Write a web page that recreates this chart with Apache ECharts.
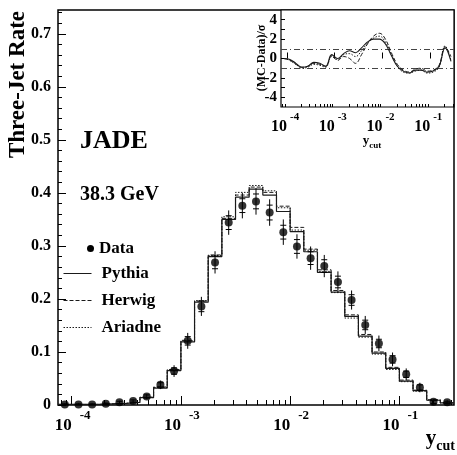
<!DOCTYPE html>
<html>
<head>
<meta charset="utf-8">
<script src="https://cdn.jsdelivr.net/npm/echarts@6/dist/echarts.min.js"></script>
<style>
  html, body { margin: 0; padding: 0; background: #fff; }
  #chart { width: 457px; height: 455px; }
</style>
</head>
<body>
<div id="chart"></div>
<script>
// log10(y_cut) bin edges, 8 bins per decade
const logYcutEdges = [-4.125, -4, -3.875, -3.75, -3.625, -3.5, -3.375, -3.25, -3.125, -3,
  -2.875, -2.75, -2.625, -2.5, -2.375, -2.25, -2.125, -2, -1.875, -1.75,
  -1.625, -1.5, -1.375, -1.25, -1.125, -1, -0.875, -0.75, -0.625, -0.5];

// three-jet rate per bin
const dataRate = [0.001, 0.001, 0.001, 0.0025, 0.005, 0.0075, 0.016, 0.038, 0.064, 0.121,
  0.186, 0.269, 0.344, 0.376, 0.384, 0.363, 0.326, 0.299, 0.277, 0.262,
  0.232, 0.198, 0.151, 0.116, 0.086, 0.058, 0.033, 0.006, 0.005];
const dataErrTot = [0.002, 0.002, 0.002, 0.002, 0.003, 0.003, 0.005, 0.008, 0.011, 0.015,
  0.018, 0.021, 0.023, 0.024, 0.025, 0.025, 0.024, 0.023, 0.022, 0.021,
  0.020, 0.018, 0.017, 0.015, 0.013, 0.011, 0.009, 0.005, 0.004];
const dataErrStat = [0.001, 0.001, 0.001, 0.001, 0.002, 0.002, 0.003, 0.004, 0.006, 0.008,
  0.010, 0.012, 0.013, 0.013, 0.014, 0.014, 0.013, 0.013, 0.012, 0.012,
  0.011, 0.010, 0.009, 0.008, 0.007, 0.006, 0.005, 0.003, 0.002];

const pythia = [0.001, 0.001, 0.001, 0.002, 0.003, 0.005, 0.014, 0.032, 0.065, 0.119,
  0.194, 0.280, 0.350, 0.392, 0.407, 0.396, 0.365, 0.327, 0.289, 0.250,
  0.213, 0.167, 0.130, 0.098, 0.069, 0.045, 0.027, 0.009, 0.004];
const herwig = [0.001, 0.001, 0.001, 0.002, 0.003, 0.005, 0.015, 0.034, 0.067, 0.122,
  0.196, 0.283, 0.352, 0.396, 0.411, 0.401, 0.375, 0.335, 0.294, 0.255,
  0.216, 0.170, 0.133, 0.100, 0.071, 0.047, 0.028, 0.010, 0.004];
const ariadne = [0.001, 0.001, 0.001, 0.002, 0.003, 0.005, 0.014, 0.033, 0.066, 0.121,
  0.197, 0.282, 0.355, 0.401, 0.414, 0.404, 0.372, 0.330, 0.292, 0.252,
  0.212, 0.164, 0.128, 0.096, 0.067, 0.044, 0.026, 0.009, 0.004];

// (MC-Data)/sigma, inset
const devPythia = [0.0, -0.1, -0.5, -0.9, -0.8, -0.4, -0.5, -0.8, 0.4, 0.0,
  0.5, 0.8, 0.6, 1.1, 1.7, 2.0, 2.0, 1.5, 0.3, -0.8,
  -1.3, -1.5, -1.2, -1.2, -1.4, -1.3, -0.8, 1.1, -0.3];
const devHerwig = [0.0, -0.2, -0.6, -0.9, -0.8, -0.5, -0.6, -0.8, 0.3, -0.2,
  0.2, 0.0, -0.5, 0.4, 1.5, 2.3, 2.6, 2.0, 0.6, -0.6,
  -1.2, -1.4, -1.1, -1.0, -1.3, -1.2, -0.7, 1.2, 0.2];
const devAriadne = [0.0, -0.2, -0.6, -1.0, -0.9, -0.6, -0.7, -0.9, 0.2, -0.1,
  0.4, 0.5, 0.2, 0.8, 1.6, 2.1, 2.3, 1.7, 0.4, -0.8,
  -1.4, -1.5, -1.3, -1.2, -1.5, -1.4, -0.9, 1.3, -0.2];

const xDecades = [-4, -3, -2, -1];
const rateTicks = [0, 0.1, 0.2, 0.3, 0.4, 0.5, 0.6, 0.7];
const devTickLabels = [-4, -2, 0, 2, 4];

const SERIF = '"Liberation Serif", "Times New Roman", serif';
const X_MIN = logYcutEdges[0], X_MAX = logYcutEdges[logYcutEdges.length - 1];

// minor log ticks 2..9 x 10^d
const minorLog = [];
for (let d = -5; d <= -1; d++) {
  for (let m = 2; m <= 9; m++) {
    const v = Math.log10(m) + d;
    if (v > X_MIN && v < X_MAX) minorLog.push(v);
  }
}
const minorRate = [];
for (let i = 1; i <= 37; i++) {
  if (i % 5 !== 0) minorRate.push(+(i * 0.02).toFixed(2));
}
const devTicks = [-4, -3, -2, -1, 0, 1, 2, 3, 4];

const centers = dataRate.map((_, i) => (logYcutEdges[i] + logYcutEdges[i + 1]) / 2);
const stepData = arr => logYcutEdges.map((e, i) => [e, arr[Math.min(i, arr.length - 1)]]);

function renderErr(params, api) {
  const x = api.value(0), y = api.value(1), et = api.value(2), es = api.value(3);
  const top = api.coord([x, y + et]);
  const bot = api.coord([x, Math.max(0, y - et)]);
  const st = api.coord([x, y + es]);
  const sb = api.coord([x, Math.max(0, y - es)]);
  const w = 3;
  const style = { stroke: '#000', lineWidth: 1 };
  return {
    type: 'group',
    children: [
      { type: 'line', shape: { x1: top[0], y1: top[1], x2: bot[0], y2: bot[1] }, style: style },
      { type: 'line', shape: { x1: st[0] - w, y1: st[1], x2: st[0] + w, y2: st[1] }, style: style },
      { type: 'line', shape: { x1: sb[0] - w, y1: sb[1], x2: sb[0] + w, y2: sb[1] }, style: style }
    ]
  };
}

// "10" part of a decade label
function tenLabel(size, margin) {
  return {
    customValues: xDecades, margin: margin, align: 'right', verticalAlign: 'top',
    fontFamily: SERIF, fontWeight: 'bold', fontSize: size, lineHeight: size, color: '#000',
    formatter: () => '10'
  };
}
// exponent part of a decade label
function expLabel(size, margin, shift) {
  return {
    customValues: xDecades, margin: margin, align: 'left', verticalAlign: 'top',
    fontFamily: SERIF, fontWeight: 'bold', fontSize: size, lineHeight: size, color: '#000',
    padding: [0, 0, 0, shift],
    formatter: v => String(v)
  };
}

const lineColor = '#1a1a1a';
const legendFont = { fontFamily: SERIF, fontWeight: 'bold', fontSize: 17, color: '#000' };

const option = {
  animation: false,
  backgroundColor: '#fff',
  textStyle: { fontFamily: SERIF, fontWeight: 'bold', color: '#000' },
  grid: [
    { left: 58, top: 10, width: 396, height: 395, show: true, borderColor: '#000', borderWidth: 1.5, backgroundColor: 'transparent' },
    { left: 281, top: 10, width: 173, height: 97, show: true, borderColor: '#000', borderWidth: 1.2, backgroundColor: '#fff' }
  ],
  xAxis: [
    {
      gridIndex: 0, type: 'value', position: 'bottom', min: X_MIN, max: X_MAX,
      axisLine: { show: false }, splitLine: { show: false },
      axisTick: { show: true, inside: true, length: 9, customValues: xDecades, lineStyle: { color: '#000', width: 1 } },
      axisLabel: tenLabel(17, 12)
    },
    {
      gridIndex: 0, type: 'value', position: 'bottom', min: X_MIN, max: X_MAX,
      axisLine: { show: false }, splitLine: { show: false },
      axisTick: { show: true, inside: true, length: 5, customValues: minorLog, lineStyle: { color: '#000', width: 1 } },
      axisLabel: expLabel(13, 4, 8)
    },
    {
      gridIndex: 1, type: 'value', position: 'bottom', min: X_MIN, max: X_MAX,
      axisLine: { show: false }, splitLine: { show: false },
      axisTick: { show: true, inside: true, length: 6, customValues: xDecades, lineStyle: { color: '#000', width: 1 } },
      axisLabel: tenLabel(16, 12)
    },
    {
      gridIndex: 1, type: 'value', position: 'bottom', min: X_MIN, max: X_MAX,
      axisLine: { show: false }, splitLine: { show: false },
      axisTick: { show: true, inside: true, length: 3, customValues: minorLog, lineStyle: { color: '#000', width: 1 } },
      axisLabel: expLabel(11, 5, 3)
    }
  ],
  yAxis: [
    {
      gridIndex: 0, type: 'value', position: 'left', min: 0, max: 0.745,
      axisLine: { show: false }, splitLine: { show: false },
      axisTick: { show: true, inside: true, length: 8, customValues: rateTicks, lineStyle: { color: '#000', width: 1 } },
      axisLabel: {
        customValues: rateTicks, margin: 7,
        fontFamily: SERIF, fontWeight: 'bold', fontSize: 16, color: '#000',
        formatter: v => (v === 0 ? '0' : v.toFixed(1))
      }
    },
    {
      gridIndex: 0, type: 'value', position: 'left', min: 0, max: 0.745,
      axisLine: { show: false }, splitLine: { show: false },
      axisTick: { show: true, inside: true, length: 4, customValues: minorRate, lineStyle: { color: '#000', width: 1 } },
      axisLabel: { show: false }
    },
    {
      gridIndex: 1, type: 'value', position: 'left', min: -5, max: 5,
      axisLine: { show: false }, splitLine: { show: false },
      axisTick: { show: true, inside: true, length: 4, customValues: devTicks, lineStyle: { color: '#000', width: 1 } },
      axisLabel: {
        customValues: devTickLabels, margin: 4,
        fontFamily: SERIF, fontWeight: 'bold', fontSize: 15, color: '#000'
      }
    }
  ],
  legend: [
    {
      data: ['Data'], left: 87, top: 240, padding: 0, itemWidth: 7, itemHeight: 7, icon: 'circle',
      textStyle: legendFont, selectedMode: false
    },
    {
      data: ['Pythia', 'Herwig', 'Ariadne'], orient: 'vertical', left: 63, top: 265, padding: 0,
      itemWidth: 28, itemHeight: 10, itemGap: 10,
      itemStyle: { color: 'rgba(0,0,0,0)', borderWidth: 0, opacity: 0 },
      lineStyle: { width: 1 },
      textStyle: Object.assign({ padding: [0, 0, 0, 5] }, legendFont),
      selectedMode: false
    }
  ],
  graphic: [
    { type: 'text', x: 18, y: 11, rotation: Math.PI / 2,
      style: { text: 'Three-Jet Rate', font: 'bold 23px ' + SERIF, fill: '#000', align: 'right', verticalAlign: 'middle' } },
    { type: 'text', x: 80, y: 141,
      style: { text: 'JADE', font: 'bold 26px ' + SERIF, fill: '#000', align: 'left', verticalAlign: 'middle' } },
    { type: 'text', x: 80, y: 195,
      style: { text: '38.3 GeV', font: 'bold 20px ' + SERIF, fill: '#000', align: 'left', verticalAlign: 'middle' } },
    { type: 'text', x: 455, y: 453,
      style: {
        text: '{y|y}{c|cut}', align: 'right', verticalAlign: 'bottom',
        rich: {
          y: { fontFamily: SERIF, fontWeight: 'bold', fontSize: 21, lineHeight: 21, verticalAlign: 'bottom', padding: [0, 0, 4, 0], fill: '#000' },
          c: { fontFamily: SERIF, fontWeight: 'bold', fontSize: 14, lineHeight: 14, verticalAlign: 'bottom', fill: '#000' }
        }
      } },
    { type: 'text', x: 262, y: 58, rotation: Math.PI / 2,
      style: { text: '(MC-Data)/\u03c3', font: 'bold 12px ' + SERIF, fill: '#000', align: 'center', verticalAlign: 'middle' } },
    { type: 'text', x: 372, y: 150,
      style: {
        text: '{y|y}{c|cut}', align: 'center', verticalAlign: 'bottom',
        rich: {
          y: { fontFamily: SERIF, fontWeight: 'bold', fontSize: 13, lineHeight: 13, verticalAlign: 'bottom', padding: [0, 0, 3, 0], fill: '#000' },
          c: { fontFamily: SERIF, fontWeight: 'bold', fontSize: 9, lineHeight: 9, verticalAlign: 'bottom', fill: '#000' }
        }
      } }
  ],
  series: [
    {
      name: 'Pythia', type: 'line', xAxisIndex: 0, yAxisIndex: 0, step: 'end',
      data: stepData(pythia), symbol: 'none',
      lineStyle: { color: lineColor, width: 1.2, type: 'solid' }, itemStyle: { color: lineColor }
    },
    {
      name: 'Herwig', type: 'line', xAxisIndex: 0, yAxisIndex: 0, step: 'end',
      data: stepData(herwig), symbol: 'none',
      lineStyle: { color: lineColor, width: 1, type: [4, 2] }, itemStyle: { color: lineColor }
    },
    {
      name: 'Ariadne', type: 'line', xAxisIndex: 0, yAxisIndex: 0, step: 'end',
      data: stepData(ariadne), symbol: 'none',
      lineStyle: { color: lineColor, width: 1, type: [1.5, 1.5] }, itemStyle: { color: lineColor }
    },
    {
      name: 'Data', type: 'custom', xAxisIndex: 0, yAxisIndex: 0, clip: true,
      renderItem: renderErr,
      data: centers.map((c, i) => [c, dataRate[i], dataErrTot[i], dataErrStat[i]]),
      itemStyle: { color: '#000' }, z: 4
    },
    {
      name: 'Data', type: 'scatter', xAxisIndex: 0, yAxisIndex: 0,
      data: centers.map((c, i) => [c, dataRate[i]]),
      symbol: 'circle', symbolSize: 8, itemStyle: { color: '#000' }, z: 5
    },
    {
      name: 'Pythia', type: 'line', xAxisIndex: 2, yAxisIndex: 2, smooth: 0.4,
      data: centers.map((c, i) => [c, devPythia[i]]), symbol: 'none', z: 6,
      lineStyle: { color: lineColor, width: 1.1, type: 'solid' },
      markLine: {
        silent: true, symbol: ['none', 'none'], label: { show: false },
        lineStyle: { color: '#444', width: 1, type: [6, 3, 1, 3] },
        data: [{ yAxis: 1 }, { yAxis: -1 }]
      }
    },
    {
      name: 'Herwig', type: 'line', xAxisIndex: 2, yAxisIndex: 2, smooth: 0.4,
      data: centers.map((c, i) => [c, devHerwig[i]]), symbol: 'none', z: 6,
      lineStyle: { color: lineColor, width: 1, type: [4, 2] }
    },
    {
      name: 'Ariadne', type: 'line', xAxisIndex: 2, yAxisIndex: 2, smooth: 0.4,
      data: centers.map((c, i) => [c, devAriadne[i]]), symbol: 'none', z: 6,
      lineStyle: { color: lineColor, width: 1, type: [1.5, 1.5] }
    }
  ]
};

const chart = echarts.init(document.getElementById('chart'), null, { renderer: 'canvas' });
chart.setOption(option);
window.addEventListener('resize', () => chart.resize());
</script>
</body>
</html>
